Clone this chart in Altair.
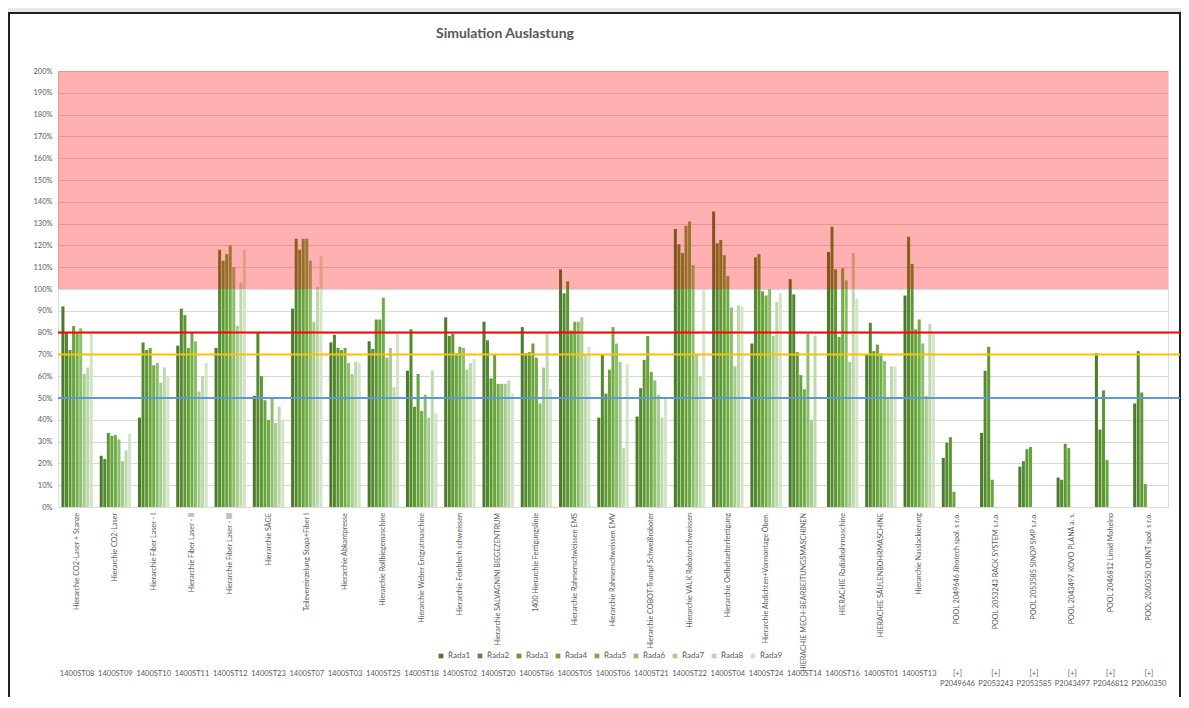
import altair as alt
import pandas as pd

codes = ["1400ST08", "1400ST09", "1400ST10", "1400ST11", "1400ST12", "1400ST23", "1400ST07",
         "1400ST03", "1400ST25", "1400ST18", "1400ST02", "1400ST20", "1400ST86", "1400ST05",
         "1400ST06", "1400ST21", "1400ST22", "1400ST04", "1400ST24", "1400ST14", "1400ST16",
         "1400ST01", "1400ST13", "[+]\nP2049646", "[+]\nP2053243", "[+]\nP2053585",
         "[+]\nP2043497", "[+]\nP2046812", "[+]\nP2060350"]

names = ["Hierarchie CO2-Laser + Stanze", "Hierarchie CO2-Laser", "Hierarchie  Fiber  Laser - I",
         "Hierarchie Fiber Laser - II", "Hierarchie Fiber Laser - III", "Hierarchie SÄGE",
         "Teilevereinzelung Stopa+Fiber I", "Hierarchie Abkantpresse", "Hierarchie Rollbiegemaschine",
         "Hierarchie Weber Entgratmaschine", "Hierarchie Feinblech schweissen",
         "Hierarchie SALVAGNINI BIEGEZENTRUM", "1400 Hierarchie Fertigungslinie",
         "Hierarchie Rahmenschweissen EMS", "Hierarchie Rahmenschweissen EMV",
         "Hierarchie COBOT-Trumpf Schweißroboter", "Hierarchie VALK Roboterschweissen",
         "Hierarchie Oelbehaelterfertigung", "Hierarchie Abdichten+Vormontage Öben.",
         "HIERACHIE MECH-BEARBEITUNGSMASCHINEN", "HIERACHIE Radialbohrmaschine",
         "HIERACHIE SÄULENBOHRMASCHINE", "Hierarchie Nasslackierung",
         "POOL 2049646 Jihotech spol. s r.o.", "POOL 2053243 RACK SYSTEM s.r.o.",
         "POOL 2053585 SINOP SMP s.r.o.", "POOL 2043497 KOVO PLANÁ a. s.",
         "POOL 2046812 Limid Mohelno", "POOL 2060350 QUINT spol. s r.o."]

series = ["Řada1", "Řada2", "Řada3", "Řada4", "Řada5", "Řada6", "Řada7", "Řada8", "Řada9"]
colors = ["#4b7a2a", "#548a2f", "#5e9835", "#67a53c", "#70ad47", "#8cbe6c", "#a6cd8d", "#bed9ab", "#d3e5c8"]

N = None
rada1 = [92, 23.5, 41, 74, 73, 51, 91, 75.5, 76, 62.5, 87, 85, 82.5, 109, 41, 41.5, 127.5, 135.5, 75, 104.5, 117, 70, 97, 22.5, 34, 18.5, 13.5, 70.5, 47.5]
rada2 = [80, 22, 75.5, 91, 118, 80, 123, 79, 72.5, 81.5, 78.5, 76.5, 70.5, 98, 70, 54.5, 120.5, 121, 114.5, 97.5, 128.5, 84.5, 124, 29.5, 62.5, 21, 12.5, 35.5, 71.5]
rada3 = [72, 34, 72, 88, 113, 60, 118, 73, 86, 46, 79.5, 59, 71, 103.5, 52, 67.5, 116.5, 122.5, 116, 71, 109, 71.5, 111.5, 32, 73.5, 26.5, 29, 53.5, 52.5]
rada4 = [83, 32.7, 73, 73, 116, 49, 123, 72, 86, 61, 70.5, 70, 75, 81, 63, 78.5, 129, 115.5, 99, 60.5, 78, 74.5, 81.5, 7, 12.5, 27.5, 27, 21.5, 10.5]
rada5 = [80, 33, 65, 80, 120, 40, 123, 73, 96, 44, 73.5, 56.5, 68.5, 85, 82.5, 62, 131, 106, 97, 54, 109.5, 70.5, 86, N, N, N, N, N, N]
rada6 = [82, 31, 66, 76, 110, 50, 113, 66, 68.5, 51.5, 73, 56.5, 47.5, 85, 75, 58, 111, 91.5, 100, 79.5, 104, 67, 75, N, N, N, N, N, N]
rada7 = [61, 21, 57, 53, 83, 38.5, 85, 61, 73, 41, 63, 56.5, 64, 87, 66.5, 51.5, 70, 64.5, 78.5, 40, 66.5, 50.5, 51, N, N, N, N, N, N]
rada8 = [64, 26, 64, 60, 103, 46, 101, 66.5, 55, 62.5, 66, 58, 80, 70, 27, 41, 60, 92.5, 94, 78.5, 116.5, 64.5, 84, N, N, N, N, N, N]
rada9 = [80, 33.5, 60, 66, 118, 40, 115, 66, 80, 43, 68, 52, 54, 73.5, 65.5, 50, 99.5, 92, 98, N, 95.5, 64.5, 79.5, N, N, N, N, N, N]

y_ticks = [0, 10, 20, 30, 40, 50, 60, 70, 80, 90, 100, 110, 120, 130, 140, 150, 160, 170, 180, 190, 200]
title_text = "Simulation Auslastung"

rows = []
for s, arr in zip(series, [rada1, rada2, rada3, rada4, rada5, rada6, rada7, rada8, rada9]):
    for c, v in zip(codes, arr):
        if v is not None:
            rows.append({"code": c, "series": s, "value": v})
df = pd.DataFrame(rows)
labels_df = pd.DataFrame({"code": codes, "name": names})
one = pd.DataFrame({"a": [0]})
title_df = pd.DataFrame({"t": [title_text]})

W, H = 1110, 436
FONT = "Lato"
GRAY = "#595959"

xscale = alt.Scale(domain=codes, paddingInner=0.18, paddingOuter=0.09)
yscale = alt.Scale(domain=[0, 200], nice=False)
yaxis = alt.Axis(values=y_ticks, labelExpr="datum.value + '%'", title=None,
                 labelOverlap=False, domain=False, ticks=False, gridColor="#d9d9d9",
                 labelColor=GRAY, labelFontSize=7.5, labelPadding=6, labelFont=FONT)

bars = alt.Chart(df).mark_bar().encode(
    x=alt.X("code:N", sort=codes, scale=xscale, title=None,
            axis=alt.Axis(labels=False, tickBand="extent", tickSize=181, tickColor="#d9d9d9",
                          domainColor="#d9d9d9", grid=False)),
    xOffset=alt.XOffset("series:N", scale=alt.Scale(domain=series, paddingInner=0.15)),
    y=alt.Y("value:Q", scale=yscale, axis=yaxis),
    color=alt.Color("series:N", scale=alt.Scale(domain=series, range=colors),
                    legend=alt.Legend(title=None, orient="none", legendX=379, legendY=581,
                                      direction="horizontal", columns=9, symbolType="square",
                                      symbolSize=22, symbolStrokeWidth=0, labelFontSize=8,
                                      labelColor=GRAY, labelFont=FONT, columnPadding=5,
                                      labelOffset=3)),
)

band = alt.Chart(one).mark_rect(color="#ff0000", opacity=0.31).encode(
    y=alt.YDatum(100, scale=yscale, axis=yaxis), y2=alt.datum(200),
    x=alt.value(0), x2=alt.value(W))


def hline(level, col):
    return alt.Chart(one).mark_rule(color=col, strokeWidth=2).encode(
        y=alt.YDatum(level, scale=yscale, axis=yaxis), x=alt.value(0), x2=alt.value(W + 12))


red = hline(80, "#ff0000")
yellow = hline(70, "#ffc000")
blue = hline(50, "#5b9bd5")

name_text = alt.Chart(labels_df).mark_text(angle=270, align="right", baseline="middle",
                                           fontSize=7.2, color=GRAY, font=FONT).encode(
    x=alt.X("code:N", sort=codes, scale=xscale, axis=None),
    y=alt.value(H + 6),
    text="name:N")

code_text = alt.Chart(labels_df).mark_text(align="center", baseline="top", fontSize=7.5,
                                           color=GRAY, font=FONT, lineBreak="\n",
                                           lineHeight=10).encode(
    x=alt.X("code:N", sort=codes, scale=xscale, axis=None),
    y=alt.value(H + 163),
    text="code:N")

title_mark = alt.Chart(title_df).mark_text(align="center", baseline="middle", fontSize=14,
                                           fontWeight="bold", color=GRAY, font=FONT).encode(
    x=alt.value(447), y=alt.value(-37), text="t:N")

topstrip = alt.Chart(one).mark_rect(color="#e9e9e9").encode(
    x=alt.value(-50), x2=alt.value(W + 13), y=alt.value(-63), y2=alt.value(-58))
frame = alt.Chart(one).mark_rect(fill=None, stroke="#222222", strokeWidth=2).encode(
    x=alt.value(-49), x2=alt.value(W + 12), y=alt.value(-58), y2=alt.value(H + 200))

chart = alt.layer(topstrip, frame, bars, band, red, yellow, blue, name_text, code_text,
                  title_mark).properties(
    width=W, height=H,
    autosize=alt.AutoSizeParams(type="none"),
    padding={"left": 50, "top": 63, "right": 13, "bottom": 190},
    background="white",
).configure_view(stroke=None).configure(font=FONT)

chart.save("out.html", embed_options={"renderer": "svg", "actions": False})
